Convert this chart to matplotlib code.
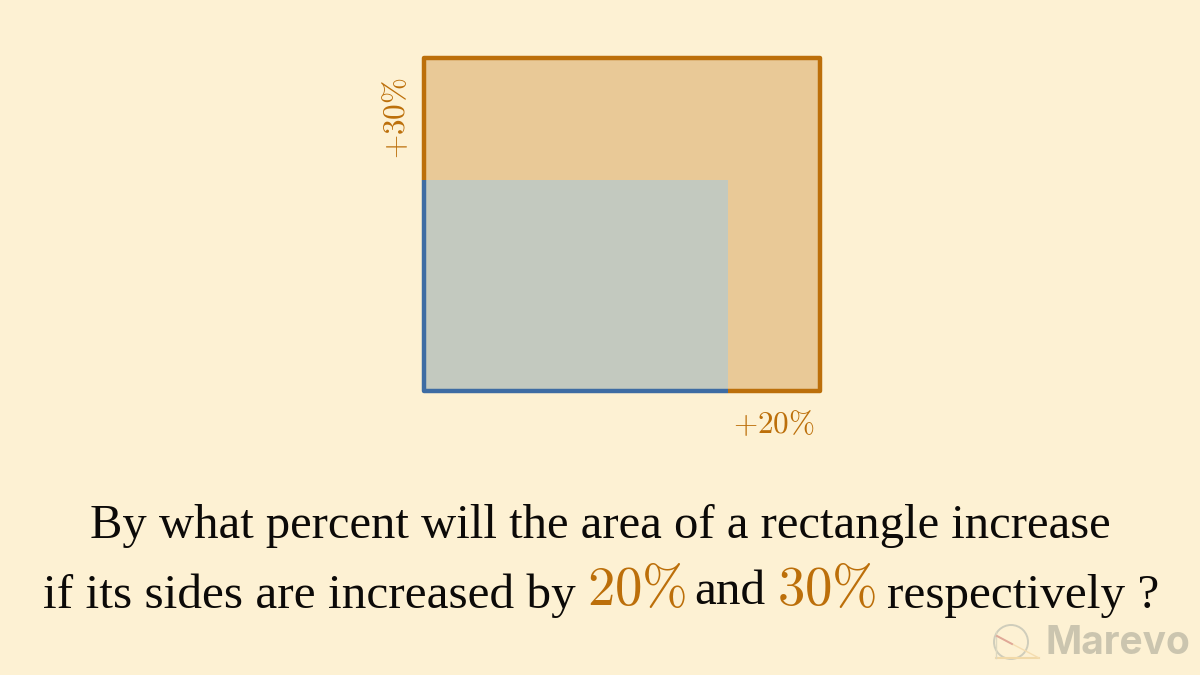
"""Rectangle area question card: original rectangle inside the enlarged one."""

import matplotlib

matplotlib.use("Agg")
import matplotlib.pyplot as plt
from matplotlib.patches import Circle, Rectangle

plt.rcParams["mathtext.fontset"] = "cm"

LEFT = 424
BOTTOM = 391
BASE_SIZE = [304, 211]
GROWN_SIZE = [396, 333]

WIDTH_LABEL = "+20\\%"
HEIGHT_LABEL = "+30\\%"

LINE_1 = "By what percent will the area of a rectangle increase"
LINE_2_WORDS = ["if its sides are increased by", "and", "respectively ?"]
LINE_2_PERCENTS = ["20\\%", "30\\%"]

BG = "#FDF1D3"
ORANGE = "#BC6F0A"
ORANGE_FILL = "#E9C997"
BLUE = "#3E6CA3"
BLUE_FILL = "#C3C9BF"
INK = "#0C0A08"
SERIF = "Liberation Serif"

fig = plt.figure(figsize=(12, 6.75), dpi=100, facecolor=BG)
ax = fig.add_axes([0, 0, 1, 1])
ax.set_xlim(0, 1200)
ax.set_ylim(675, 0)
ax.axis("off")

# ── Rectangles ─────────────────────────────────────────────
grown_w, grown_h = GROWN_SIZE
base_w, base_h = BASE_SIZE
ax.add_patch(Rectangle((LEFT, BOTTOM - grown_h), grown_w, grown_h,
                       facecolor=ORANGE_FILL, edgecolor="none"))
ax.add_patch(Rectangle((LEFT, BOTTOM - base_h), base_w, base_h,
                       facecolor=BLUE_FILL, edgecolor="none"))
ax.plot([LEFT, LEFT, LEFT + grown_w, LEFT + grown_w, LEFT + base_w],
        [BOTTOM - base_h, BOTTOM - grown_h, BOTTOM - grown_h, BOTTOM, BOTTOM],
        color=ORANGE, lw=3.2, solid_joinstyle="round", solid_capstyle="butt")
ax.plot([LEFT, LEFT, LEFT + base_w],
        [BOTTOM - base_h, BOTTOM, BOTTOM],
        color=BLUE, lw=3.2, solid_joinstyle="round", solid_capstyle="butt")

# ── Side labels ────────────────────────────────────────────
ax.text(773.5, 424, f"${WIDTH_LABEL}$", color=ORANGE, fontsize=22.5,
        ha="center", va="center")
ax.text(396, 118, f"${HEIGHT_LABEL}$", color=ORANGE, fontsize=22.5, rotation=90,
        ha="center", va="center")

# ── Question text ──────────────────────────────────────────
ax.text(600, 526, LINE_1, family=SERIF, fontsize=35, color=INK,
        ha="center", va="center")
ax.text(43, 596, LINE_2_WORDS[0], family=SERIF, fontsize=35.5, color=INK,
        ha="left", va="center")
ax.text(636.5, 590, f"${LINE_2_PERCENTS[0]}$", color=ORANGE, fontsize=39.5,
        ha="center", va="center")
ax.text(730, 592, LINE_2_WORDS[1], family=SERIF, fontsize=35.5, color=INK,
        ha="center", va="center")
ax.text(826.5, 590, f"${LINE_2_PERCENTS[1]}$", color=ORANGE, fontsize=39.5,
        ha="center", va="center")
ax.text(887, 596, LINE_2_WORDS[2], family=SERIF, fontsize=35.5, color=INK,
        ha="left", va="center")

# ── Watermark ──────────────────────────────────────────────
ax.add_patch(Circle((1011, 642), 17, facecolor="none", edgecolor="#CFCDBB", lw=1.4))
ax.plot([996, 1039], [658, 658], color="#F1D9A8", lw=1.5)
ax.plot([996, 996], [632, 658], color="#DDD8C0", lw=1.0)
ax.plot([997, 1039], [636, 658], color="#F5DDB0", lw=1.0)
ax.plot([997, 1012], [636, 644], color="#E0A898", lw=1.4)
ax.text(1046, 644, "Marevo", family="Inter", fontweight="bold", fontsize=28,
        color="#CBC5AF", ha="left", va="center")

fig.savefig("out.png", dpi=100, facecolor=BG)
plt.close(fig)
